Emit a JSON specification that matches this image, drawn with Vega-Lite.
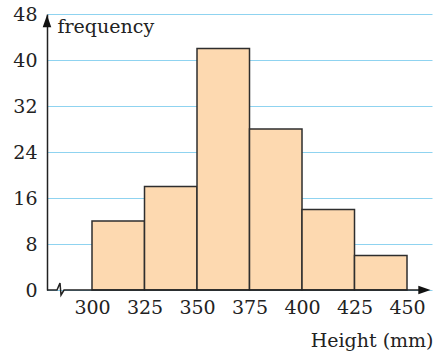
{
  "$schema": "https://vega.github.io/schema/vega-lite/v6.json",
  "width": 385,
  "height": 276,
  "autosize": "none",
  "padding": {"left": 47, "top": 14, "right": 10, "bottom": 63},
  "background": "white",
  "config": {"view": {"stroke": null}, "font": "DejaVu Serif"},
  "datasets": {
    "bins": [
      {"start": 300, "end": 325, "frequency": 12},
      {"start": 325, "end": 350, "frequency": 18},
      {"start": 350, "end": 375, "frequency": 42},
      {"start": 375, "end": 400, "frequency": 28},
      {"start": 400, "end": 425, "frequency": 14},
      {"start": 425, "end": 450, "frequency": 6}
    ],
    "xaxis": [
      {"h": 278.57, "f": 0, "o": 1},
      {"h": 283.33, "f": 0, "o": 2},
      {"h": 284.76, "f": 1.22, "o": 3},
      {"h": 285.24, "f": -0.87, "o": 4},
      {"h": 286.67, "f": 0, "o": 5},
      {"h": 458, "f": 0, "o": 6}
    ],
    "arrows": [
      {"h": 278.57, "f": 46.78, "dir": "up"},
      {"h": 458.3, "f": 0, "dir": "right"}
    ]
  },
  "layer": [
    {
      "data": {"name": "bins"},
      "mark": {"type": "bar", "fill": "#fdd9b0", "stroke": "#2e2e2e", "strokeWidth": 1.5},
      "encoding": {
        "x": {
          "field": "start", "type": "quantitative",
          "scale": {"domain": [278.57, 461.9], "nice": false, "zero": false},
          "axis": {
            "values": [300, 325, 350, 375, 400, 425, 450],
            "grid": false, "ticks": false, "domain": false,
            "labelFont": "DejaVu Serif", "labelFontSize": 19, "labelColor": "#222",
            "labelPadding": 8,
            "title": "Height (mm)", "titleFont": "DejaVu Serif", "titleFontSize": 19,
            "titleFontWeight": "normal", "titleColor": "#222",
            "titleAnchor": "end", "titleAlign": "right", "titleX": 386, "titleY": 56,
            "titleBaseline": "alphabetic"
          }
        },
        "x2": {"field": "end"},
        "y": {
          "field": "frequency", "type": "quantitative",
          "scale": {"domain": [0, 48], "nice": false},
          "axis": {
            "values": [0, 8, 16, 24, 32, 40, 48],
            "grid": true, "gridColor": "#8fd3f0", "gridWidth": 1, "gridOpacity": 1,
            "ticks": false, "domain": true, "domainColor": "#222", "domainWidth": 1.5,
            "labelFont": "DejaVu Serif", "labelFontSize": 19, "labelColor": "#222",
            "labelPadding": 10,
            "title": "frequency", "titleFont": "DejaVu Serif", "titleFontSize": 19,
            "titleFontWeight": "normal", "titleColor": "#222", "titleAngle": 0,
            "titleAlign": "left", "titleX": 10, "titleY": 18, "titleBaseline": "alphabetic"
          }
        },
        "y2": {"datum": 0}
      }
    },
    {
      "data": {"name": "xaxis"},
      "mark": {"type": "line", "color": "#222", "strokeWidth": 1.5, "strokeJoin": "miter"},
      "encoding": {
        "x": {"field": "h", "type": "quantitative"},
        "y": {"field": "f", "type": "quantitative"},
        "order": {"field": "o"}
      }
    },
    {
      "data": {"name": "arrows"},
      "mark": {"type": "point", "filled": true, "color": "#111", "opacity": 1, "size": 150},
      "encoding": {
        "x": {"field": "h", "type": "quantitative"},
        "y": {"field": "f", "type": "quantitative"},
        "shape": {
          "field": "dir", "type": "nominal", "legend": null,
          "scale": {"domain": ["up", "right"], "range": ["M0,-1L0.7,1L-0.7,1Z", "M1,0L-1,0.7L-1,-0.7Z"]}
        }
      }
    }
  ]
}
